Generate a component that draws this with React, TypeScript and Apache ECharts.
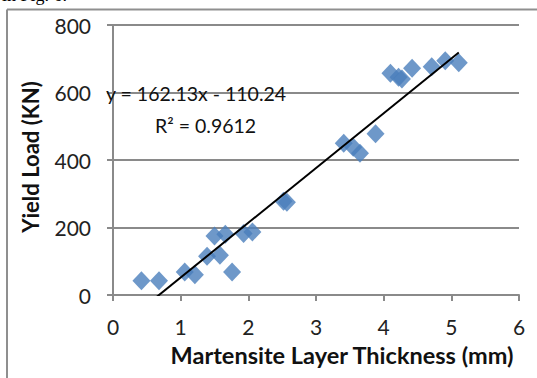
import React, { useEffect, useRef } from "react";
import * as echarts from "echarts";

// Martensite layer thickness (mm) vs. yield load (KN)
const thickness = [0.42, 0.68, 1.06, 1.21, 1.39, 1.5, 1.58, 1.66, 1.76, 1.93, 2.06, 2.52, 2.57, 3.41, 3.55, 3.65, 3.88, 4.1, 4.22, 4.27, 4.42, 4.71, 4.91, 5.11];
const yieldLoad = [42, 42, 68, 60, 115, 175, 118, 180, 68, 182, 187, 278, 275, 450, 438, 420, 478, 657, 645, 640, 672, 676, 694, 688];

// Linear fit reported on the chart
const trendSlope = 162.13;
const trendIntercept = -110.24;
const rSquared = 0.9612;

const xTicks = [0, 1, 2, 3, 4, 5, 6];
const yTicks = [0, 200, 400, 600, 800];

const FONT = "Lato, 'Open Sans', sans-serif";

export default function App() {
  const ref = useRef<HTMLDivElement>(null);

  useEffect(() => {
    if (!ref.current) return;
    const chart = echarts.init(ref.current, undefined, { renderer: "svg" });

    const points = thickness.map((x, i) => [x, yieldLoad[i]]);
    const xMin = Math.min(...thickness);
    const xMax = Math.max(...thickness);
    const trend = [
      [xMin, trendSlope * xMin + trendIntercept],
      [xMax, trendSlope * xMax + trendIntercept],
    ];

    const sign = trendIntercept < 0 ? "-" : "+";
    const equation = `y = ${trendSlope.toFixed(2)}x ${sign} ${Math.abs(trendIntercept).toFixed(2)}`;

    chart.setOption({
      animation: false,
      backgroundColor: "#ffffff",
      grid: { left: 113, right: 18, top: 25, bottom: 83, containLabel: false },
      xAxis: {
        type: "value",
        min: xTicks[0],
        max: xTicks[xTicks.length - 1],
        interval: 1,
        name: "Martensite Layer Thickness (mm)",
        nameLocation: "middle",
        nameGap: 48,
        nameTextStyle: { fontFamily: FONT, fontWeight: "bold", fontSize: 23.5, color: "#111", padding: [0, 0, 0, 52] },
        axisLine: { show: true, lineStyle: { color: "#8a8a8a", width: 2 } },
        axisTick: { show: true, inside: false, length: 6, lineStyle: { color: "#8a8a8a", width: 2 } },
        axisLabel: { fontFamily: FONT, fontSize: 21, color: "#222", margin: 21 },
        splitLine: { show: false },
      },
      yAxis: {
        type: "value",
        min: yTicks[0],
        max: yTicks[yTicks.length - 1],
        interval: 200,
        name: "Yield Load (KN)",
        nameLocation: "middle",
        nameGap: 72,
        nameTextStyle: { fontFamily: FONT, fontWeight: "bold", fontSize: 22, color: "#111", padding: [0, 0, 0, 6] },
        axisLine: { show: true, lineStyle: { color: "#8a8a8a", width: 2 } },
        axisTick: { show: true, inside: false, length: 6, lineStyle: { color: "#8a8a8a", width: 2 } },
        axisLabel: { fontFamily: FONT, fontSize: 21, color: "#222", margin: 22 },
        splitLine: { show: true, lineStyle: { color: "#8a8a8a", width: 2 } },
      },
      series: [
        {
          type: "scatter",
          data: points,
          symbol: "diamond",
          symbolSize: [18, 19],
          itemStyle: { color: "#4a7ebb" },
          z: 2,
        },
        {
          type: "line",
          data: trend,
          showSymbol: false,
          symbol: "none",
          clip: true,
          lineStyle: { color: "#000", width: 2 },
          z: 3,
        },
      ],
      graphic: [
        // page frame
        { type: "line", shape: { x1: 7, y1: 9.5, x2: 537, y2: 9.5 }, style: { stroke: "#8f8f8f", lineWidth: 2 } },
        { type: "line", shape: { x1: 7, y1: 9.5, x2: 7, y2: 378 }, style: { stroke: "#8f8f8f", lineWidth: 2 } },
        // caption running above the frame
        {
          type: "text",
          x: 2,
          y: 4,
          style: { text: "in Fig. 6.", font: "18px 'Liberation Serif', serif", fill: "#000", textVerticalAlign: "bottom" },
        },
        {
          type: "text",
          x: 106,
          y: 93,
          z: 10,
          style: { text: equation, font: `19.5px ${FONT}`, fill: "#111", textVerticalAlign: "middle" },
        },
        {
          type: "text",
          x: 155,
          y: 125,
          z: 10,
          style: { text: `R² = ${rSquared}`, font: `19.5px ${FONT}`, fill: "#111", textVerticalAlign: "middle" },
        },
      ],
    });

    return () => chart.dispose();
  }, []);

  return <div ref={ref} style={{ width: 537, height: 378, position: "absolute", left: 0, top: 0 }} />;
}
